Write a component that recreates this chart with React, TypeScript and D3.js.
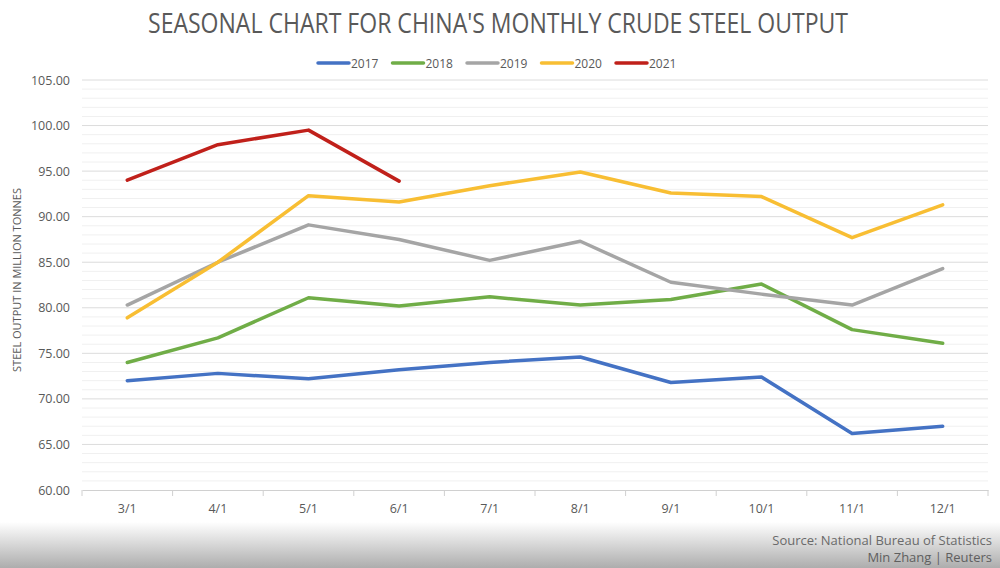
import { useEffect, useRef } from "react";
import * as d3 from "d3";

const W = 1000;
const H = 568;
const M = { top: 80, right: 12, bottom: 78, left: 82 };

const months = ["3/1", "4/1", "5/1", "6/1", "7/1", "8/1", "9/1", "10/1", "11/1", "12/1"];
const years = ["2017", "2018", "2019", "2020", "2021"];
const colors = ["#4472C4", "#70AD47", "#A5A5A5", "#F8BE33", "#C0201A"];

const v2017 = [72.0, 72.8, 72.2, 73.2, 74.0, 74.6, 71.8, 72.4, 66.2, 67.0];
const v2018 = [74.0, 76.7, 81.1, 80.2, 81.2, 80.3, 80.9, 82.6, 77.6, 76.1];
const v2019 = [80.3, 85.0, 89.1, 87.5, 85.2, 87.3, 82.8, 81.5, 80.3, 84.3];
const v2020 = [78.9, 85.0, 92.3, 91.6, 93.4, 94.9, 92.6, 92.2, 87.7, 91.3];
const v2021 = [94.0, 97.9, 99.5, 93.9];
const seriesValues = [v2017, v2018, v2019, v2020, v2021];

const yTicks = [60, 65, 70, 75, 80, 85, 90, 95, 100, 105];

const FONT = "'Open Sans', 'Liberation Sans', sans-serif";
const TEXT = "#595959";

export default function App() {
  const svgRef = useRef<SVGSVGElement>(null);

  useEffect(() => {
    if (!svgRef.current) return;
    const root = d3.select(svgRef.current);
    root.selectAll("*").remove();

    const innerW = W - M.left - M.right;
    const innerH = H - M.top - M.bottom;

    // bottom grey fade
    const defs = root.append("defs");
    const grad = defs
      .append("linearGradient")
      .attr("id", "fade")
      .attr("x1", 0)
      .attr("y1", 0)
      .attr("x2", 0)
      .attr("y2", 1);
    grad.append("stop").attr("offset", "0%").attr("stop-color", "#ffffff");
    grad.append("stop").attr("offset", "100%").attr("stop-color", "#adadad");
    root.append("rect").attr("width", W).attr("height", H).attr("fill", "#fff");
    root
      .append("rect")
      .attr("x", 0)
      .attr("y", 522)
      .attr("width", W)
      .attr("height", H - 522)
      .attr("fill", "url(#fade)");

    const x = d3.scaleBand<string>().domain(months).range([0, innerW]);
    const y = d3.scaleLinear().domain([60, 105]).range([innerH, 0]);

    const g = root.append("g").attr("transform", `translate(${M.left},${M.top})`);

    // minor grid
    g.append("g")
      .selectAll("line")
      .data(d3.range(60, 106, 1).filter((v) => v % 5 !== 0))
      .join("line")
      .attr("x1", 0)
      .attr("x2", innerW)
      .attr("y1", (d) => y(d))
      .attr("y2", (d) => y(d))
      .attr("stroke", "#f0f0f0")
      .attr("stroke-width", 1);

    // major grid
    g.append("g")
      .selectAll("line")
      .data(yTicks.filter((v) => v > 60))
      .join("line")
      .attr("x1", 0)
      .attr("x2", innerW)
      .attr("y1", (d) => y(d))
      .attr("y2", (d) => y(d))
      .attr("stroke", "#dcdcdc")
      .attr("stroke-width", 1);

    // y axis labels
    g.append("g")
      .call(
        d3
          .axisLeft(y)
          .tickValues(yTicks)
          .tickFormat((d) => d3.format(".2f")(d as number))
          .tickSize(0)
          .tickPadding(12)
      )
      .call((a) => a.select(".domain").remove())
      .call((a) =>
        a.selectAll("text").attr("fill", TEXT).attr("font-size", 12.5).attr("font-family", FONT)
      );

    // x axis
    g.append("g")
      .attr("transform", `translate(0,${innerH})`)
      .call(d3.axisBottom(x).tickSize(0).tickPadding(14))
      .call((a) => a.select(".domain").attr("stroke", "#d0d0d0"))
      .call((a) =>
        a.selectAll("text").attr("fill", TEXT).attr("font-size", 12.5).attr("font-family", FONT)
      );

    // x tick marks at category boundaries
    g.append("g")
      .selectAll("line")
      .data(d3.range(months.length + 1))
      .join("line")
      .attr("x1", (i) => i * x.step())
      .attr("x2", (i) => i * x.step())
      .attr("y1", innerH)
      .attr("y2", innerH + 6)
      .attr("stroke", "#d0d0d0");

    // lines
    const line = d3
      .line<number>()
      .x((_, i) => (x(months[i]) ?? 0) + x.bandwidth() / 2)
      .y((d) => y(d));

    seriesValues.forEach((vals, k) => {
      g.append("path")
        .datum(vals)
        .attr("d", line)
        .attr("fill", "none")
        .attr("stroke", colors[k])
        .attr("stroke-width", 3.5)
        .attr("stroke-linejoin", "round")
        .attr("stroke-linecap", "round");
    });

    // y axis title
    root
      .append("text")
      .attr("transform", `translate(21,${M.top + innerH / 2 - 5}) rotate(-90)`)
      .attr("text-anchor", "middle")
      .attr("font-size", 11)
      .attr("font-family", FONT)
      .attr("fill", TEXT)
      .text("STEEL OUTPUT IN MILLION TONNES");

    // title
    root
      .append("text")
      .attr("x", 498)
      .attr("y", 33)
      .attr("text-anchor", "middle")
      .attr("font-size", 27)
      .attr("textLength", 700)
      .attr("lengthAdjust", "spacingAndGlyphs")
      .attr("font-family", "'Liberation Sans Narrow', 'Open Sans', sans-serif")
      .attr("fill", TEXT)
      .text("SEASONAL CHART FOR CHINA'S MONTHLY CRUDE STEEL OUTPUT");

    // legend
    const legend = root.append("g").attr("transform", "translate(317,63)");
    years.forEach((yr, k) => {
      const lg = legend.append("g").attr("transform", `translate(${k * 74.5},0)`);
      lg.append("line")
        .attr("x1", 1)
        .attr("x2", 32)
        .attr("y1", 0)
        .attr("y2", 0)
        .attr("stroke", colors[k])
        .attr("stroke-width", 3.5)
        .attr("stroke-linecap", "round");
      lg.append("text")
        .attr("x", 34)
        .attr("y", 4.5)
        .attr("font-size", 12)
        .attr("font-family", FONT)
        .attr("fill", TEXT)
        .text(yr);
    });

    // source
    root
      .append("text")
      .attr("x", 992)
      .attr("y", 545)
      .attr("text-anchor", "end")
      .attr("font-size", 13)
      .attr("font-family", FONT)
      .attr("fill", "#6a6a6a")
      .text("Source: National Bureau of Statistics");
    root
      .append("text")
      .attr("x", 992)
      .attr("y", 562)
      .attr("text-anchor", "end")
      .attr("font-size", 13)
      .attr("font-family", FONT)
      .attr("fill", "#5f5f5f")
      .text("Min Zhang | Reuters");
  }, []);

  return (
    <svg
      ref={svgRef}
      width={W}
      height={H}
      viewBox={`0 0 ${W} ${H}`}
      style={{ position: "absolute", left: 0, top: 0, display: "block" }}
    />
  );
}
